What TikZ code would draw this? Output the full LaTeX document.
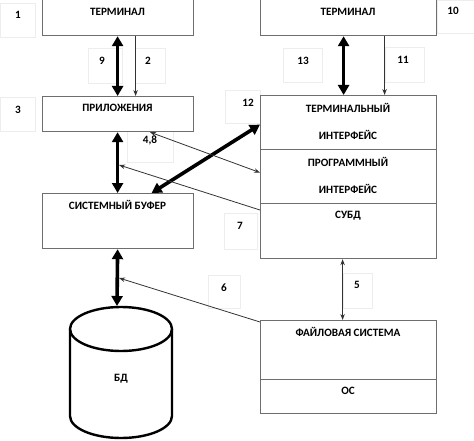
\documentclass[tikz,border=0pt]{standalone}
\usepackage{fontspec}
\setmainfont{Carlito}
\usetikzlibrary{arrows.meta}
\definecolor{boxgray}{HTML}{6E6E6E}
\definecolor{lblgray}{HTML}{EDEDED}
\definecolor{thingray}{HTML}{333333}
\tikzset{
  box/.style={draw=boxgray, line width=1.2pt, anchor=north west, inner sep=0pt, fill=white},
  lbl/.style={draw=lblgray, line width=0.6pt, anchor=north west, inner sep=0pt},
  txt/.style={font=\bfseries\fontsize{11.2}{12}\selectfont, inner sep=0pt},
  thickarr/.style={line width=3.6pt, {Triangle[length=10pt,width=11pt]}-{Triangle[length=10pt,width=11pt]}},
  thinarr/.style={draw=thingray, line width=0.8pt, -{Stealth[length=6pt,width=4.5pt]}},
  thinboth/.style={draw=thingray, line width=0.8pt, {Stealth[length=6pt,width=4.5pt]}-{Stealth[length=6pt,width=4.5pt]}},
  cyl/.style={line width=2.4pt}
}
\begin{document}
\begin{tikzpicture}[x=1pt,y=-1pt]
\useasboundingbox (0,0) rectangle (474,441);
\clip (0,0) rectangle (474,441);
% label boxes
\node[lbl, minimum width=35pt, minimum height=34pt] (l1) at (0,3) {};
\node[lbl, minimum width=34pt, minimum height=35pt] (l9) at (88,48) {};
\node[lbl, minimum width=30pt, minimum height=35pt] (l2) at (135,48) {};
\node[lbl, minimum width=35pt, minimum height=34pt] (l3) at (0,97) {};
\node[lbl, minimum width=46pt, minimum height=31pt] (l48) at (127,131) {};
\node[lbl, minimum width=35pt, minimum height=33pt] (l12) at (225,90) {};
\node[lbl, minimum width=39pt, minimum height=34pt] (l13) at (283,48) {};
\node[lbl, minimum width=39pt, minimum height=35pt] (l11) at (385,47) {};
\node[lbl, minimum width=40pt, minimum height=33pt] (l10) at (437,0) {};
\node[lbl, minimum width=33pt, minimum height=36pt] (l7) at (224,213) {};
\node[lbl, minimum width=32pt, minimum height=33pt] (l6) at (208,275) {};
\node[lbl, minimum width=29pt, minimum height=35pt] (l5) at (343,273) {};
% label numbers
\node[txt] (n1) at (18,15) {1};
\node[txt] (n9) at (102,61) {9};
\node[txt] (n2) at (148,61) {2};
\node[txt] (n3) at (18,110) {3};
\node[txt] (n48) at (150,140) {4,8};
\node[txt] (n12) at (248,103) {12};
\node[txt] (n13) at (303,61) {13};
\node[txt] (n11) at (403,60) {11};
\node[txt] (n10) at (453,11) {10};
\node[txt] (n7) at (240,226) {7};
\node[txt] (n6) at (224,288) {6};
\node[txt] (n5) at (357,285) {5};
% boxes
\node[box, minimum width=151pt, minimum height=45pt] (term1) at (42,-10) {};
\node[box, minimum width=151pt, minimum height=35pt] (app) at (42,96) {};
\node[box, minimum width=151pt, minimum height=55pt] (buf) at (42,193) {};
\node[box, minimum width=176pt, minimum height=45pt] (term2) at (260,-10) {};
\node[box, minimum width=176pt, minimum height=54pt] (ti) at (260,95) {};
\node[box, minimum width=176pt, minimum height=54pt] (pi) at (260,149) {};
\node[box, minimum width=176pt, minimum height=55pt] (dbms) at (260,203) {};
\node[box, minimum width=176pt, minimum height=59pt] (fs) at (260,320) {};
\node[box, minimum width=176pt, minimum height=34pt] (os) at (260,379) {};
% box texts
\node[txt] (tterm1) at (117.5,12) {ТЕРМИНАЛ};
\node[txt] (tapp) at (117.5,108) {ПРИЛОЖЕНИЯ};
\node[txt] (tbuf) at (117.5,205) {СИСТЕМНЫЙ БУФЕР};
\node[txt] (tterm2) at (348,12) {ТЕРМИНАЛ};
\node[txt] (tti1) at (348,108) {ТЕРМИНАЛЬНЫЙ};
\node[txt] (tti2) at (348,135) {ИНТЕРФЕЙС};
\node[txt] (tpi1) at (348,162) {ПРОГРАММНЫЙ};
\node[txt] (tpi2) at (348,189) {ИНТЕРФЕЙС};
\node[txt] (tdbms) at (348,216) {СУБД};
\node[txt] (tfs) at (348,332) {ФАЙЛОВАЯ СИСТЕМА};
\node[txt] (tos) at (348,391) {ОС};
% cylinder
\draw[cyl, fill=white] (70,329) -- (70,416) arc[start angle=180, end angle=360, x radius=51pt, y radius=22pt] -- (172,329);
\draw[cyl] (121,329) ellipse [x radius=51pt, y radius=22pt];
\node[txt] (tdb) at (121,379) {БД};
\coordinate (dbtop) at (117,306);
\coordinate (c7) at (119,165);
\coordinate (c6) at (119,278);
% connectors
\draw[thickarr] ([xshift=-0.5pt]term1.south) -- ([xshift=-0.5pt]app.north);
\draw[thinarr] ([xshift=17.5pt]term1.south) -- ([xshift=17.5pt]app.north);
\draw[thickarr] ([xshift=-0.5pt]app.south) -- ([xshift=-0.5pt]buf.north);
\draw[thickarr] ([xshift=-0.5pt]buf.south) -- (dbtop);
\draw[thickarr] ([xshift=-5pt]term2.south) -- ([xshift=-5pt]ti.north);
\draw[thinarr] ([xshift=36pt]term2.south) -- ([xshift=36pt]ti.north);
\draw[thickarr] ([yshift=-2pt]ti.west) -- ([xshift=33.5pt]buf.north);
\draw[thinboth] ([xshift=32pt]app.south) -- ([yshift=4pt]pi.west);
\draw[thinarr] ([yshift=-7pt]dbms.north west) -- (c7);
\draw[thinarr] ([yshift=-2pt]fs.north west) -- (c6);
\draw[thinboth] ([xshift=-6pt]dbms.south) -- ([xshift=-6pt]fs.north);
\end{tikzpicture}
\end{document}
